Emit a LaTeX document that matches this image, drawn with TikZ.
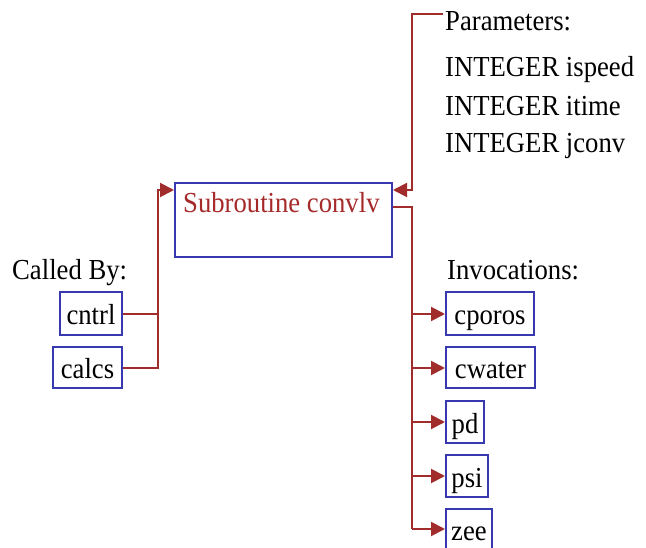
\documentclass[tikz,border=0pt]{standalone}
\usepackage{fontspec}
\setmainfont[FakeStretch=0.92]{Liberation Serif}
\usetikzlibrary{arrows.meta}
\definecolor{lred}{HTML}{A02C2C}
\definecolor{tred}{HTML}{A52A2A}
\definecolor{bblue}{HTML}{3838B0}
\tikzset{
 box/.style={draw=bblue, line width=2pt, inner sep=0pt, text height=28pt, text depth=6pt, font=\fontsize{29}{34}\selectfont},
 txt/.style={anchor=base west, inner sep=0pt, font=\fontsize{29}{34}\selectfont},
 conn/.style={draw=lred, line width=2pt},
 arr/.style={conn, -{Triangle[length=14pt,width=14pt]}},
}
\begin{document}
\begin{tikzpicture}[x=1pt,y=-1pt]
\useasboundingbox[fill=white] (0,0) rectangle (646,548);
% main
\node[box, minimum width=217pt, minimum height=74pt] (main) at (283.5,220) {};
\node[txt, text=tred] (mt) at (183,213) {Subroutine convlv};
\coordinate (lin) at ([yshift=30pt]main.west);
\coordinate (rin) at ([yshift=30pt]main.east);
\coordinate (rout) at ([yshift=13pt]main.east);
% callers
\node[txt] (calledby) at (12,280) {Called By:};
\node[box, minimum width=62pt, minimum height=43pt] (cntrl) at (91,314) {cntrl};
\node[box, minimum width=69pt, minimum height=41pt] (calcs) at (87.5,368) {calcs};
\coordinate (lv) at (158,0);
\draw[conn] (cntrl.east) -- (lv |- cntrl.east);
\draw[arr] (calcs.east) -| (lv |- lin) -- (lin);
% parameters
\node[txt] (params) at (445,31) {Parameters:};
\node[txt] (p1) at (445,77) {INTEGER ispeed};
\node[txt] (p2) at (445,116) {INTEGER itime};
\node[txt] (p3) at (445,153) {INTEGER jconv};
\coordinate (pstart) at (443,14);
\coordinate (rv) at (412,0);
\draw[arr] (pstart) -- (rv |- pstart) |- (rin);
% invocations
\node[txt] (invoc) at (447,280) {Invocations:};
\node[box, minimum width=88pt, minimum height=43pt] (cporos) at (490,314) {cporos};
\node[box, minimum width=89pt, minimum height=41pt] (cwater) at (490.5,368) {cwater};
\node[box, minimum width=38pt, minimum height=42pt] (pd) at (465,422) {pd};
\node[box, minimum width=42pt, minimum height=42pt] (psi) at (467,476) {psi};
\node[box, minimum width=46pt, minimum height=41pt] (zee) at (469,529) {zee};
\draw[conn] (rout) -| (rv |- zee.west);
\foreach \n in {cporos,cwater,pd,psi,zee}
  \draw[arr] (rv |- \n.west) -- (\n.west);
\end{tikzpicture}
\end{document}
